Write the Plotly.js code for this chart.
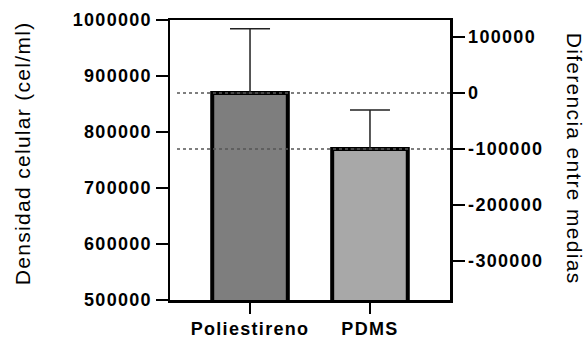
<!DOCTYPE html>
<html><head><meta charset="utf-8">
<script src="https://cdn.plot.ly/plotly-3.0.1.min.js"></script>
<style>html,body{margin:0;padding:0;background:#fff}#c{width:586px;height:338px}
#c text{letter-spacing:1.3px}</style>
</head><body><div id="c"></div>
<script>
const categories = ["Poliestireno", "PDMS"];
const means = [869600, 769600];
const errUpper = [984500, 839300];
const barColors = ["#7e7e7e", "#a8a8a8"];
const leftTicks = [500000, 600000, 700000, 800000, 900000, 1000000];
const rightTicks = [-300000, -200000, -100000, 0, 100000];
const leftRange = [500000, 1000000];

const ref = means[0];
const diffs = means.map(m => m - ref);
const errPlus = errUpper.map((u, i) => u - means[i]);
const font = "Liberation Sans, Arial, sans-serif";

const traces = [{
  type: "bar", x: categories, y: means, width: 0.63,
  marker: {color: barColors, line: {color: "#000", width: 4}},
  error_y: {type: "data", symmetric: false, array: errPlus, arrayminus: [0, 0],
            color: "#222", thickness: 1.5, width: 20},
  hoverinfo: "skip"
}, {
  type: "scatter", x: categories, y: diffs, yaxis: "y2", mode: "markers",
  marker: {opacity: 0}, hoverinfo: "skip", showlegend: false
}];

const shapes = means.map(m => ({
  type: "line", xref: "paper", yref: "y", x0: 0.025, x1: 1, y0: m, y1: m,
  line: {color: "#555", width: 1.5, dash: "dot"}, layer: "above"
}));

const layout = {
  width: 586, height: 338, showlegend: false,
  margin: {l: 170, r: 136, t: 20, b: 38},
  paper_bgcolor: "#fff", plot_bgcolor: "#fff",
  font: {family: font, color: "#000"},
  xaxis: {range: [-0.667, 1.667], showline: true, linecolor: "#000", linewidth: 2.5, mirror: true,
          ticks: "outside", ticklen: 11, tickwidth: 2.5, tickcolor: "#000",
          tickfont: {family: font, size: 18, weight: "bold"}, showgrid: false, zeroline: false},
  yaxis: {range: leftRange, tickvals: leftTicks, ticktext: leftTicks.map(String),
          showline: true, linecolor: "#000", linewidth: 2.5, ticks: "outside", ticklen: 12,
          tickwidth: 2.5, tickcolor: "#000", showgrid: false, zeroline: false,
          tickfont: {family: font, size: 18, weight: "bold"}},
  yaxis2: {overlaying: "y", side: "right", range: leftRange.map(v => v - ref),
           tickvals: rightTicks, ticktext: rightTicks.map(String),
           showline: true, linecolor: "#000", linewidth: 2.5, ticks: "outside", ticklen: 12,
           tickwidth: 2.5, tickcolor: "#000", showgrid: false, zeroline: false,
           tickfont: {family: font, size: 18, weight: "bold"}},
  shapes: shapes,
  annotations: [{text: "Densidad celular (cel/ml)", xref: "paper", yref: "paper",
    x: -0.529, y: 0.525, textangle: -90, showarrow: false,
    font: {family: font, size: 21}, xanchor: "center", yanchor: "middle"},
    {text: "Diferencia entre medias", xref: "paper", yref: "paper",
    x: 1.446, y: 0.505, textangle: 90, showarrow: false,
    font: {family: font, size: 21}, xanchor: "center", yanchor: "middle"}]
};
Plotly.newPlot("c", traces, layout, {staticPlot: true, displayModeBar: false});
</script></body></html>
